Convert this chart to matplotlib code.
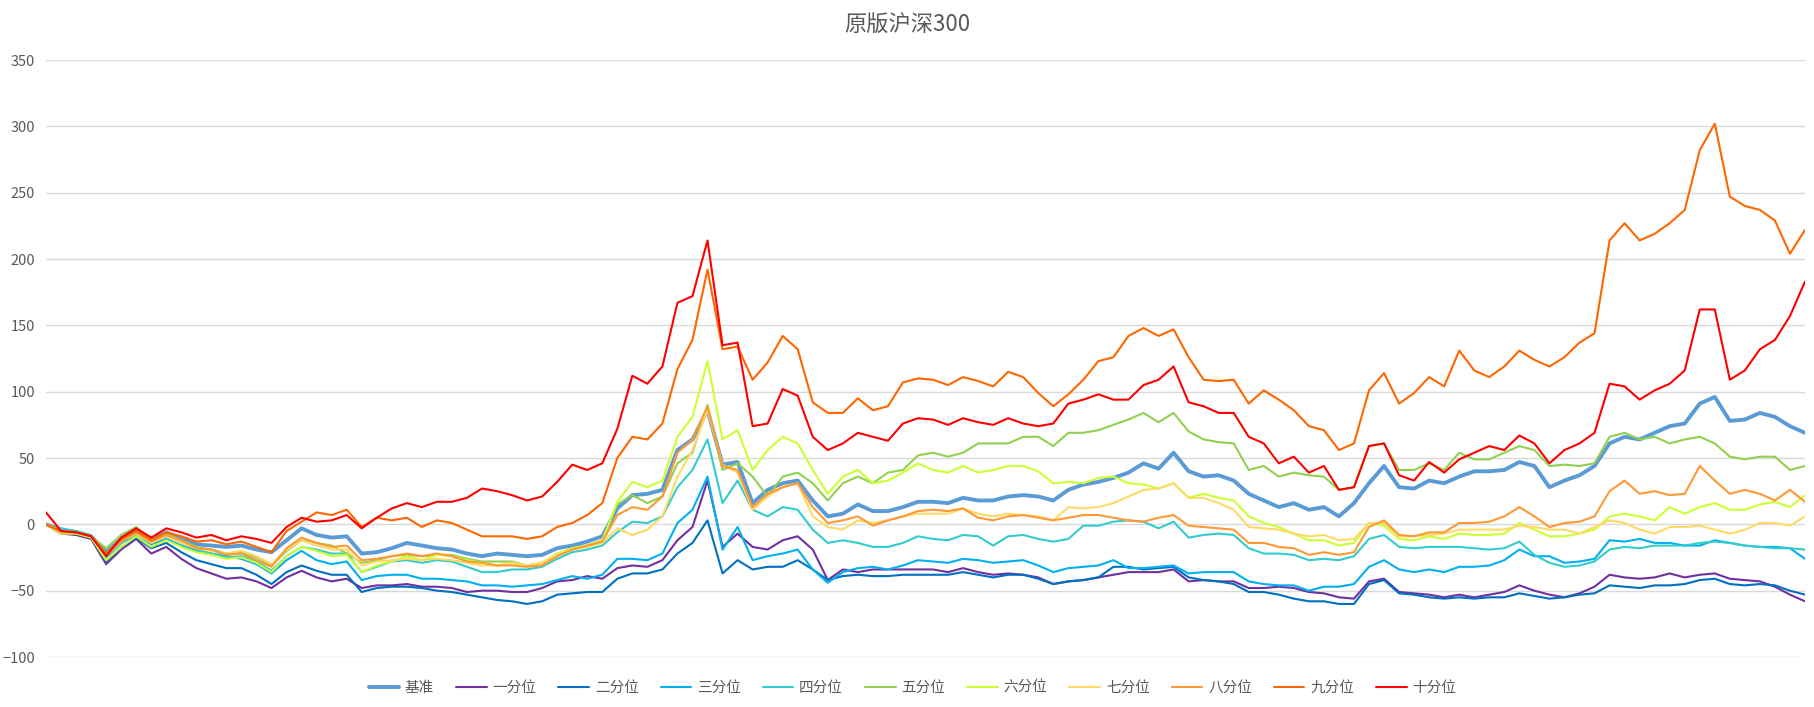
import matplotlib
matplotlib.use('Agg')
import matplotlib.pyplot as plt
import numpy as np

plt.rcParams['font.family'] = ['Noto Sans CJK SC', 'DejaVu Sans']

title = '原版沪深300'
names = ['基准', '一分位', '二分位', '三分位', '四分位', '五分位',
         '六分位', '七分位', '八分位', '九分位', '十分位']
colors = ['#5B9BD5', '#7030A0', '#0070C0', '#00B0F0', '#33CCCC', '#92D050',
          '#CCFF33', '#FFD966', '#FF9933', '#FF6600', '#FF0000']
yticks = [-100, -50, 0, 50, 100, 150, 200, 250, 300, 350]

base = [0, -4, -6, -9, -21, -11, -4, -11, -6, -11, -15, -16, -17, -16, -19, -21, -12, -3, -8, -10,
        -9, -22, -21, -18, -14, -16, -18, -19, -22, -24, -22, -23, -24, -23, -18, -16, -13, -9, 12, 22,
        23, 26, 56, 64, 86, 45, 47, 16, 26, 31, 33, 18, 6, 8, 15, 10, 10, 13, 17,
        17, 16, 20, 18, 18, 21, 22, 21, 18, 26, 30, 32, 35, 39, 46, 42, 54, 40, 36, 37,
        33, 23, 18, 13, 16, 11, 13, 6, 16, 31, 44, 28, 27, 33, 31, 36, 40, 40, 41, 47,
        44, 28, 33, 37, 44, 61, 66, 64, 69, 74, 76, 91, 96, 78, 79, 84, 81, 74, 69]
q1 = [0, -7, -8, -11, -30, -19, -11, -22, -17, -26, -33, -37, -41, -40, -43, -48, -40, -35, -40, -43,
      -41, -48, -46, -46, -45, -47, -47, -48, -51, -50, -50, -51, -51, -48, -43, -42, -39, -41, -33, -31,
      -32, -27, -12, -2, 33, -17, -7, -17, -19, -12, -9, -19, -42, -34, -36, -34, -34, -34, -34,
      -34, -36, -33, -36, -38, -37, -38, -40, -45, -43, -42, -40, -38, -36, -36, -36, -34, -43, -42, -43,
      -43, -48, -48, -47, -48, -51, -52, -55, -56, -43, -41, -51, -52, -53, -55, -53, -55, -53, -51, -46,
      -50, -53, -55, -52, -47, -38, -40, -41, -40, -37, -40, -38, -37, -41, -42, -43, -47, -53, -58]
q2 = [0, -6, -7, -10, -28, -17, -10, -18, -14, -21, -27, -30, -33, -33, -38, -45, -36, -31, -35, -38,
      -38, -51, -48, -47, -47, -48, -50, -51, -53, -55, -57, -58, -60, -58, -53, -52, -51, -51, -41, -37,
      -37, -34, -22, -14, 3, -37, -27, -34, -32, -32, -27, -34, -42, -39, -38, -39, -39, -38, -38,
      -38, -38, -36, -38, -40, -38, -38, -41, -45, -43, -42, -40, -32, -32, -34, -33, -32, -40, -42, -43,
      -45, -51, -51, -53, -56, -58, -58, -60, -60, -45, -42, -52, -53, -55, -56, -55, -56, -55, -55, -52,
      -54, -56, -55, -53, -52, -46, -47, -48, -46, -46, -45, -42, -41, -45, -46, -45, -46, -50, -53]
q3 = [0, -5, -6, -9, -25, -14, -8, -15, -11, -16, -20, -22, -24, -26, -30, -37, -27, -20, -27, -30,
      -28, -42, -39, -38, -38, -41, -41, -42, -43, -46, -46, -47, -46, -45, -42, -39, -41, -38, -26, -26,
      -27, -22, 1, 11, 36, -19, -2, -27, -24, -22, -19, -34, -44, -36, -33, -32, -34, -31, -27,
      -28, -29, -26, -27, -29, -28, -27, -31, -36, -33, -32, -31, -27, -33, -33, -32, -31, -37, -36, -36,
      -36, -43, -45, -46, -46, -50, -47, -47, -45, -32, -27, -34, -36, -34, -36, -32, -32, -31, -27, -19,
      -24, -24, -29, -28, -26, -12, -13, -11, -14, -14, -16, -16, -12, -14, -16, -17, -17, -18, -26]
q4 = [0, -3, -5, -8, -22, -13, -6, -13, -9, -14, -19, -22, -25, -24, -28, -35, -24, -17, -19, -22,
      -22, -36, -32, -28, -27, -29, -27, -28, -32, -36, -36, -34, -34, -32, -26, -21, -19, -16, -6, 2,
      1, 6, 28, 41, 64, 16, 33, 11, 6, 13, 11, -4, -14, -12, -14, -17, -17, -14, -9,
      -11, -12, -8, -9, -16, -9, -8, -11, -13, -11, -1, -1, 2, 3, 2, -3, 2, -10, -8, -7,
      -8, -18, -22, -22, -23, -27, -26, -27, -24, -11, -8, -17, -18, -17, -17, -17, -18, -19, -18, -13,
      -23, -29, -32, -31, -28, -19, -17, -18, -16, -16, -16, -14, -13, -14, -16, -17, -18, -18, -19]
q5 = [0, -5, -6, -9, -18, -8, -2, -12, -7, -12, -17, -19, -22, -21, -25, -31, -20, -12, -14, -16,
      -22, -29, -27, -24, -23, -24, -23, -23, -26, -28, -28, -28, -31, -29, -23, -18, -16, -12, 15, 22,
      16, 21, 46, 54, 90, 41, 46, 36, 21, 36, 39, 31, 18, 31, 36, 31, 39, 41, 52,
      54, 51, 54, 61, 61, 61, 66, 66, 59, 69, 69, 71, 75, 79, 84, 77, 84, 70, 64, 62,
      61, 41, 44, 36, 39, 37, 36, 26, 28, 59, 61, 41, 41, 46, 41, 54, 49, 49, 54, 59,
      56, 44, 45, 44, 46, 66, 69, 64, 66, 61, 64, 66, 61, 51, 49, 51, 51, 41, 44]
q6 = [0, -7, -7, -10, -27, -17, -9, -17, -12, -17, -21, -23, -26, -25, -29, -36, -24, -17, -20, -24,
      -23, -36, -31, -28, -24, -27, -23, -24, -27, -29, -31, -29, -31, -29, -22, -18, -16, -12, 17, 32,
      28, 33, 66, 81, 123, 64, 71, 41, 56, 66, 61, 41, 23, 36, 41, 31, 33, 39, 46,
      41, 39, 44, 39, 41, 44, 44, 40, 31, 32, 31, 35, 36, 31, 30, 27, 31, 20, 23, 20,
      18, 6, 1, -2, -7, -12, -12, -16, -14, 1, -1, -11, -12, -9, -11, -7, -8, -8, -7, 1,
      -4, -9, -9, -7, -4, 6, 8, 6, 3, 13, 8, 13, 16, 11, 11, 15, 17, 13, 22]
q7 = [0, -5, -6, -9, -24, -13, -7, -14, -9, -14, -18, -20, -22, -20, -24, -30, -19, -12, -16, -19,
      -19, -31, -28, -27, -26, -27, -26, -27, -29, -31, -31, -29, -31, -29, -23, -19, -17, -14, -3, -8,
      -4, 6, 36, 56, 86, 45, 39, 11, 21, 28, 31, 6, -2, -4, 3, 1, 3, 6, 8,
      8, 8, 12, 8, 6, 8, 7, 6, 3, 13, 12, 13, 16, 21, 26, 27, 31, 20, 20, 16,
      11, -2, -3, -4, -7, -9, -8, -12, -11, 1, 1, -9, -9, -8, -7, -4, -4, -4, -4, -1,
      -2, -4, -4, -7, -2, 3, 1, -4, -7, -2, -2, -1, -4, -7, -4, 1, 1, -1, 6]
q8 = [0, -6, -6, -9, -23, -13, -6, -13, -8, -12, -18, -19, -23, -22, -27, -32, -18, -10, -14, -17,
      -16, -27, -26, -24, -22, -24, -22, -24, -28, -29, -31, -31, -32, -31, -24, -19, -16, -13, 7, 13,
      11, 21, 54, 64, 89, 44, 41, 13, 23, 28, 31, 13, 1, 3, 6, -1, 3, 6, 10,
      11, 10, 12, 5, 3, 6, 7, 5, 3, 5, 7, 7, 5, 3, 2, 5, 7, -1, -2, -3,
      -4, -14, -14, -17, -18, -23, -21, -23, -21, -2, 3, -8, -9, -6, -6, 1, 1, 2, 6, 13,
      6, -2, 1, 2, 6, 25, 33, 23, 25, 22, 23, 44, 33, 23, 26, 23, 18, 26, 17]
q9 = [0, -5, -6, -9, -22, -11, -5, -12, -6, -9, -13, -12, -15, -13, -17, -21, -5, 2, 9, 7,
      11, -2, 5, 3, 5, -2, 3, 1, -4, -9, -9, -9, -11, -9, -2, 1, 7, 16, 50, 66,
      64, 76, 117, 139, 192, 132, 134, 109, 122, 142, 132, 92, 84, 84, 95, 86, 89, 107, 110,
      109, 105, 111, 108, 104, 115, 111, 99, 89, 98, 109, 123, 126, 142, 148, 142, 147, 126, 109, 108,
      109, 91, 101, 94, 86, 74, 71, 56, 61, 101, 114, 91, 99, 111, 104, 131, 116, 111, 119, 131,
      124, 119, 126, 137, 144, 214, 227, 214, 219, 227, 237, 282, 302, 247, 240, 237, 229, 204, 222]
q10 = [9, -5, -6, -9, -24, -10, -3, -10, -3, -6, -10, -8, -12, -9, -11, -14, -2, 5, 2, 3,
       7, -3, 5, 12, 16, 13, 17, 17, 20, 27, 25, 22, 18, 21, 32, 45, 41, 46, 72, 112,
       106, 119, 167, 172, 214, 135, 137, 74, 76, 102, 97, 66, 56, 61, 69, 66, 63, 76, 80,
       79, 75, 80, 77, 75, 80, 76, 74, 76, 91, 94, 98, 94, 94, 105, 109, 119, 92, 89, 84,
       84, 66, 61, 46, 51, 39, 44, 26, 28, 59, 61, 37, 33, 47, 39, 49, 54, 59, 56, 67,
       61, 46, 56, 61, 69, 106, 104, 94, 101, 106, 116, 162, 162, 109, 116, 132, 139, 157, 183]

series = [base, q1, q2, q3, q4, q5, q6, q7, q8, q9, q10]
widths = [2.8] + [1.5] * 10

fig = plt.figure(figsize=(18.14, 7.07), dpi=100)
ax = fig.add_axes([0.02536, 0.0707, 0.96968, 0.8444])

handles = []
for vals, name, col, lw in zip(series, names, colors, widths):
    x = np.arange(len(vals))
    h, = ax.plot(x, vals, color=col, lw=lw, label=name,
                 solid_joinstyle='round', solid_capstyle='round')
    handles.append(h)

ax.set_xlim(0, len(base) - 1)
ax.set_ylim(-100, 350)
ax.set_yticks(yticks)
ax.set_xticks([])
ax.grid(axis='y', color='#D9D9D9', lw=1.0)
ax.set_axisbelow(True)
for s in ax.spines.values():
    s.set_visible(False)
ax.tick_params(axis='y', length=0, pad=8, labelsize=10.5, labelcolor='#595959')

fig.text(0.5, 0.965, title, ha='center', va='center', fontsize=16, color='#595959')

fig.legend(handles=handles, labels=names, loc='center', bbox_to_anchor=(0.503, 0.027),
           ncol=11, frameon=False, handlelength=2.1, handletextpad=0.4,
           columnspacing=1.5, fontsize=10.5, labelcolor='#595959')

fig.savefig('out.png', dpi=100)
